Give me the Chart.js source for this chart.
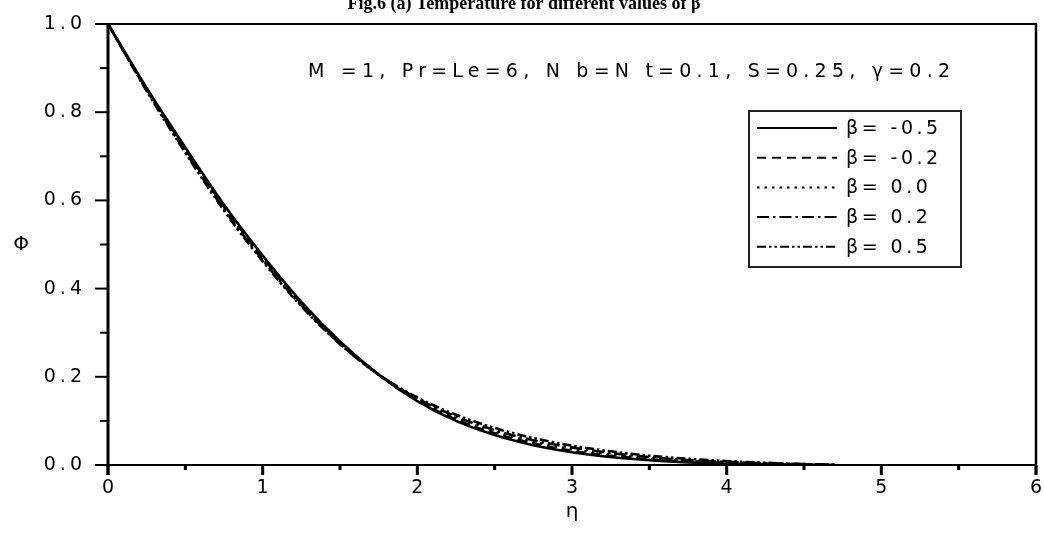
<!DOCTYPE html>
<html>
<head>
<meta charset="utf-8">
<script src="https://cdn.jsdelivr.net/npm/chart.js@4.4.1/dist/chart.umd.min.js"></script>
<style>
  html, body { margin: 0; padding: 0; background: #fff; }
  #wrap { width: 1044px; height: 533px; position: relative; }
</style>
</head>
<body>
<div id="wrap"><canvas id="c" width="1044" height="533"></canvas></div>
<script>
// ---- data ----
const eta = [0, 0.25, 0.5, 0.75, 1.0, 1.25, 1.5, 1.75, 2.0, 2.25, 2.5, 2.75, 3.0, 3.25, 3.5, 3.75, 4.0, 4.25, 4.5, 4.7];
const phiBetaM05 = [1.0, 0.855, 0.720, 0.590, 0.475, 0.370, 0.280, 0.205, 0.145, 0.100, 0.068, 0.045, 0.029, 0.018, 0.011, 0.006, 0.003, 0.0015, 0.0005, 0.0];
const phiBetaM02 = [1.0, 0.853, 0.717, 0.586, 0.471, 0.367, 0.278, 0.205, 0.147, 0.103, 0.072, 0.049, 0.032, 0.021, 0.013, 0.008, 0.004, 0.002, 0.001, 0.0];
const phiBeta00  = [1.0, 0.852, 0.714, 0.583, 0.468, 0.365, 0.277, 0.205, 0.149, 0.106, 0.075, 0.052, 0.036, 0.024, 0.015, 0.009, 0.005, 0.003, 0.001, 0.0];
const phiBeta02  = [1.0, 0.850, 0.711, 0.580, 0.465, 0.362, 0.275, 0.205, 0.151, 0.110, 0.079, 0.056, 0.040, 0.027, 0.018, 0.011, 0.007, 0.004, 0.002, 0.0];
const phiBeta05  = [1.0, 0.848, 0.708, 0.577, 0.462, 0.360, 0.274, 0.205, 0.153, 0.114, 0.084, 0.061, 0.044, 0.031, 0.021, 0.014, 0.009, 0.005, 0.002, 0.001];
const seriesLabels = ['β= -0.5', 'β= -0.2', 'β= 0.0', 'β= 0.2', 'β= 0.5'];
const xTicks = [0, 1, 2, 3, 4, 5, 6];
const yTicks = [0.0, 0.2, 0.4, 0.6, 0.8, 1.0];
const titleText = 'Fig.6 (a) Temperature for different values of β';
const annotationText = 'M =1, Pr=Le=6, N b=N t=0.1, S=0.25, γ=0.2';
const xTitle = 'η';
const yTitle = 'Φ';

// ---- styles ----
const dashes = [[], [9, 6], [2.5, 5], [12, 4, 2.5, 4], [9, 3, 2.5, 3, 2.5, 3]];
const seriesValues = [phiBetaM05, phiBetaM02, phiBeta00, phiBeta02, phiBeta05];
const LS = 4; // letter spacing for axis text
const FONT = '"DejaVu Sans"';

const datasets = seriesValues.map((vals, i) => ({
  label: seriesLabels[i],
  data: eta.map((x, j) => ({ x: x, y: vals[j] })),
  borderColor: '#000',
  borderWidth: 2.6,
  borderDash: dashes[i],
  pointRadius: 0,
  fill: false,
  cubicInterpolationMode: 'monotone'
}));

function spacedText(ctx, text, x, y, ls, align) {
  ctx.save();
  ctx.letterSpacing = ls + 'px';
  let w = ctx.measureText(text).width;
  let sx = x;
  if (align === 'center') sx = x - (w - ls) / 2;
  else if (align === 'right') sx = x - (w - ls);
  ctx.textAlign = 'left';
  ctx.fillText(text, sx, y);
  ctx.restore();
}
function fitText(ctx, text, x0, x1, y) {
  ctx.save();
  ctx.letterSpacing = '0px';
  const w = ctx.measureText(text).width;
  const n = [...text].length - 1;
  const ls = (x1 - x0 - w) / n;
  ctx.restore();
  spacedText(ctx, text, x0, y, ls, 'left');
}

const noPad = s => { s.paddingLeft = 0; s.paddingRight = 0; s.paddingTop = 0; s.paddingBottom = 0; };

const decor = {
  id: 'decor',
  beforeDraw(chart) {
    chart.ctx.letterSpacing = LS + 'px';
  },
  afterDraw(chart) {
    const ctx = chart.ctx;
    ctx.letterSpacing = '0px';
    const xs = chart.scales.x, ys = chart.scales.y;
    const L = xs.getPixelForValue(0), R = xs.getPixelForValue(6);
    const T = ys.getPixelForValue(1), B = ys.getPixelForValue(0);
    ctx.save();
    ctx.strokeStyle = '#000';
    ctx.lineCap = 'butt';
    // frame
    ctx.lineWidth = 2;
    ctx.beginPath(); ctx.moveTo(L - 13, T); ctx.lineTo(R + 1, T); ctx.stroke();
    ctx.beginPath(); ctx.moveTo(L - 13, B); ctx.lineTo(R + 1, B); ctx.stroke();
    ctx.lineWidth = 2.5;
    ctx.beginPath(); ctx.moveTo(R, T); ctx.lineTo(R, B + 10); ctx.stroke();
    ctx.lineWidth = 3;
    ctx.beginPath(); ctx.moveTo(L, T - 1); ctx.lineTo(L, B + 10); ctx.stroke();
    // y ticks
    ctx.lineWidth = 2;
    for (let v = 0; v <= 10; v++) {
      const y = ys.getPixelForValue(v / 10);
      const len = (v % 2 === 0) ? 13 : 8;
      ctx.beginPath(); ctx.moveTo(L - len, y); ctx.lineTo(L, y); ctx.stroke();
    }
    // x ticks
    ctx.lineWidth = 3;
    for (let v = 0; v <= 12; v++) {
      const x = xs.getPixelForValue(v / 2);
      const len = (v % 2 === 0) ? 10 : 5;
      ctx.beginPath(); ctx.moveTo(x, B); ctx.lineTo(x, B + len); ctx.stroke();
    }
    // legend box
    const bx = 749, by = 111, bw = 212, bh = 156;
    ctx.lineWidth = 2;
    ctx.strokeStyle = '#222';
    ctx.strokeRect(bx, by, bw, bh);
    ctx.strokeStyle = '#000';
    ctx.fillStyle = '#000';
    ctx.font = '19px ' + FONT;
    ctx.textBaseline = 'middle';
    chart.data.datasets.forEach((ds, i) => {
      const yy = 128 + i * 29.7;
      ctx.save();
      ctx.lineWidth = 2;
      ctx.setLineDash(ds.borderDash);
      ctx.beginPath(); ctx.moveTo(757, yy); ctx.lineTo(837, yy); ctx.stroke();
      ctx.restore();
      spacedText(ctx, ds.label, 846, yy + 1, 3.5, 'left');
    });
    // annotation
    ctx.font = '19px ' + FONT;
    fitText(ctx, annotationText, 308, 950, 72);
    // axis titles
    ctx.font = '20px ' + FONT;
    spacedText(ctx, xTitle, (L + R) / 2, 512, 0, 'center');
    spacedText(ctx, yTitle, 21, 245, 0, 'center');
    // figure title (cut at the top in the reference)
    ctx.font = 'bold 18px "Liberation Serif"';
    ctx.textBaseline = 'alphabetic';
    spacedText(ctx, titleText, 524, 9, 0, 'center');
    ctx.restore();
  }
};

new Chart(document.getElementById('c'), {
  type: 'line',
  data: { datasets: datasets },
  options: {
    responsive: false,
    animation: false,
    events: [],
    layout: { padding: { left: 0, right: 8, top: 24, bottom: 0 } },
    plugins: { legend: { display: false }, tooltip: { enabled: false }, title: { display: false } },
    scales: {
      x: {
        type: 'linear', min: 0, max: 6,
        grid: { display: false, drawTicks: false },
        border: { display: false },
        afterBuildTicks: s => { s.ticks = xTicks.map(v => ({ value: v })); },
        afterFit: s => { s.height = 68; noPad(s); },
        ticks: {
          color: '#000', padding: 12, labelOffset: LS / 2,
          font: { family: 'DejaVu Sans', size: 19 },
          maxRotation: 0,
          callback: v => String(v)
        }
      },
      y: {
        type: 'linear', min: 0, max: 1,
        grid: { display: false, drawTicks: false },
        border: { display: false },
        afterBuildTicks: s => { s.ticks = yTicks.map(v => ({ value: v })); },
        afterFit: s => { s.width = 108; noPad(s); },
        ticks: {
          color: '#000', padding: 26 - LS,
          font: { family: 'DejaVu Sans', size: 19 },
          callback: v => v.toFixed(1)
        }
      }
    }
  },
  plugins: [decor]
});
</script>
</body>
</html>
